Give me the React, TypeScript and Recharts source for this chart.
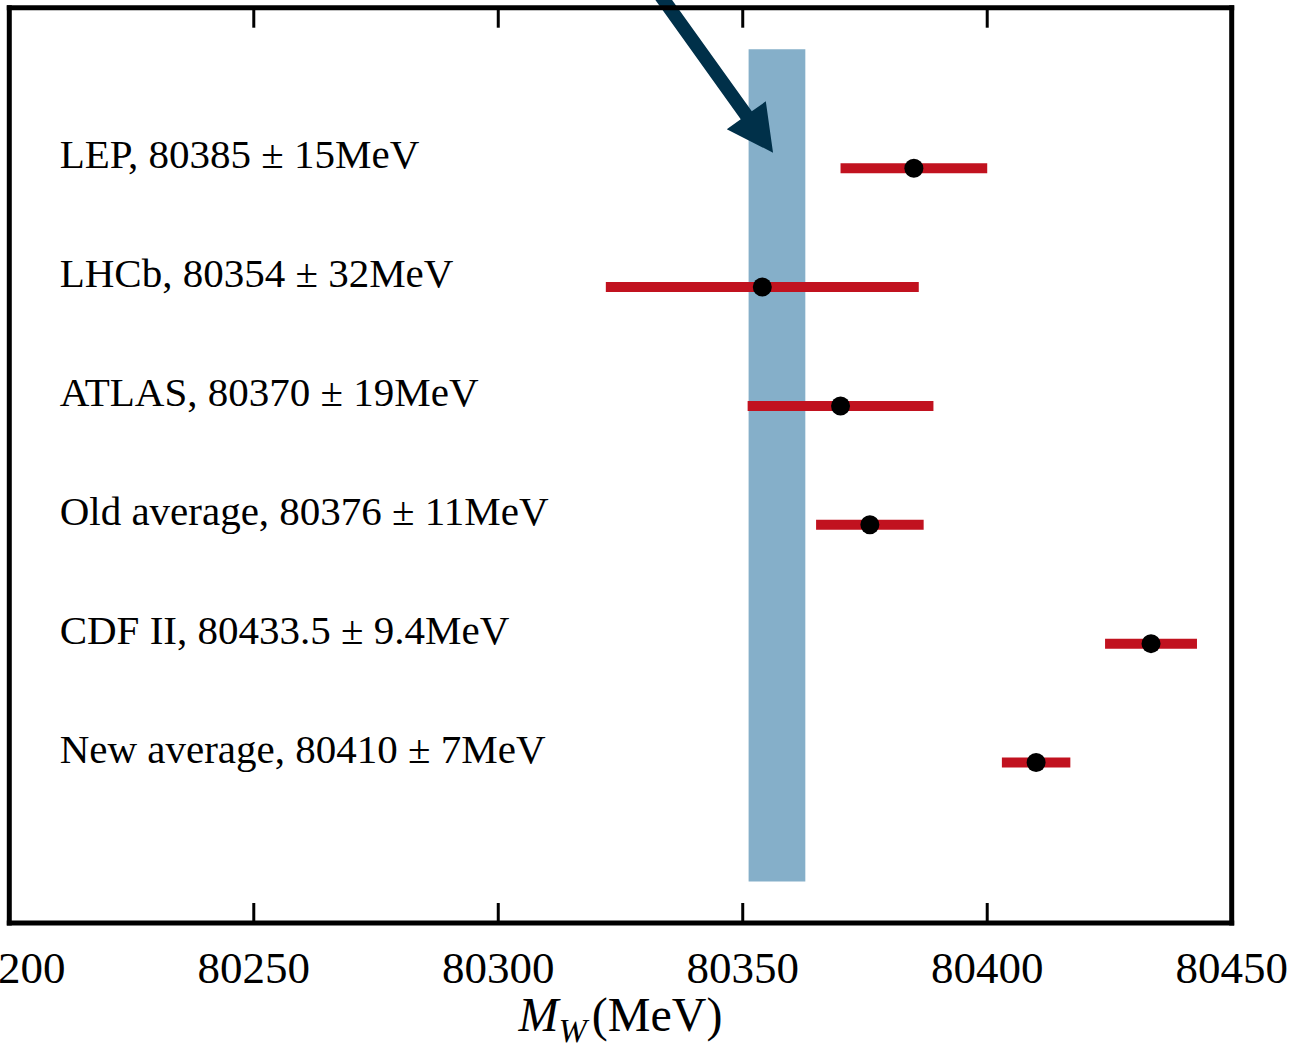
import { ScatterChart, Scatter, XAxis, YAxis, ErrorBar, ReferenceArea, ReferenceLine, Label } from 'recharts';

const SERIF = '"Liberation Serif", "DejaVu Serif", serif';

const experiments = ['LEP', 'LHCb', 'ATLAS', 'Old average', 'CDF II', 'New average'];
const massValues = [80385, 80354, 80370, 80376, 80433.5, 80410];
const massErrors = [15, 32, 19, 11, 9.4, 7];
const rowPositions = [6, 5, 4, 3, 2, 1];
const xTicks = [80200, 80250, 80300, 80350, 80400, 80450];
const xDomain = [80200, 80450];
const yDomain = [-0.35, 7.35];
// standard model prediction band: centre, half width, rows covered
const smCentre = 80357;
const smHalfWidth = 5.8;
const smRows = [0, 7];
// annotation arrow pointing at the band (data coords)
const arrowTail = [80329.4, 7.67];
const arrowTip = [80356.2, 6.13];
const labelX = 80210.3;

const points = experiments.map((_, i) => ({ x: massValues[i], y: rowPositions[i], err: massErrors[i] }));
const labels = experiments.map((name, i) => ({
    x: labelX,
    y: rowPositions[i],
    text: `${name}, ${massValues[i]} ± ${massErrors[i]}MeV`,
}));

function Dot(props: any) {
    return <circle cx={props.cx} cy={props.cy} r={9.5} fill="#000" />;
}

function RowLabel(props: any) {
    return (
        <text x={props.cx} y={props.cy} fontFamily={SERIF} fontSize={41} fill="#000">
            {props.payload.text}
        </text>
    );
}

function NoTickLabel() {
    return <g />;
}

function Arrow(props: any) {
    const { x1, y1, x2, y2 } = props;
    const len = Math.hypot(x2 - x1, y2 - y1);
    const ux = (x2 - x1) / len;
    const uy = (y2 - y1) / len;
    const nx = -uy;
    const ny = ux;
    const shaft = 6.8;
    const headLen = 46;
    const headHalf = 24;
    const bx = x2 - ux * headLen;
    const by = y2 - uy * headLen;
    const pts = [
        [x1 + nx * shaft, y1 + ny * shaft],
        [bx + nx * shaft, by + ny * shaft],
        [bx + nx * headHalf, by + ny * headHalf],
        [x2, y2],
        [bx - nx * headHalf, by - ny * headHalf],
        [bx - nx * shaft, by - ny * shaft],
        [x1 - nx * shaft, y1 - ny * shaft],
    ];
    return <polygon points={pts.map((p) => p.join(',')).join(' ')} fill="#003049" />;
}

function AxisTitle(props: any) {
    const { x, y, width } = props.viewBox;
    return (
        <text x={x + width / 2} y={y + 108} textAnchor="middle" fontFamily={SERIF} fontSize={48} fill="#000">
            <tspan fontStyle="italic">M</tspan>
            <tspan fontStyle="italic" fontSize={34} dy={11}>W</tspan>
            <tspan dy={-11} dx={5}>(MeV)</tspan>
        </text>
    );
}

const frameLine = { stroke: '#000', strokeWidth: 5, strokeLinecap: 'square' as const };
const tickLine = { stroke: '#000', strokeWidth: 3 };

export default function App() {
    return (
        <div style={{ width: 1291, height: 1046, background: '#fff' }}>
            <style>{'body{margin:0}'}</style>
            <ScatterChart width={1291} height={1046} margin={{ top: 6.7, right: 58.3, bottom: 0, left: 8.3 }}>
                <XAxis
                    dataKey="x"
                    type="number"
                    domain={xDomain}
                    ticks={xTicks}
                    interval={0}
                    allowDataOverflow
                    height={123}
                    axisLine={frameLine}
                    tickLine={tickLine}
                    tickSize={-20}
                    tickMargin={48}
                    tick={{ fontSize: 45, fill: '#000', fontFamily: SERIF }}
                >
                    <Label content={AxisTitle} />
                </XAxis>
                <XAxis
                    xAxisId="top"
                    dataKey="x"
                    orientation="top"
                    type="number"
                    domain={xDomain}
                    ticks={xTicks}
                    interval={0}
                    allowDataOverflow
                    height={1}
                    axisLine={frameLine}
                    tickLine={tickLine}
                    tickSize={-20}
                    tick={NoTickLabel}
                />
                <YAxis
                    dataKey="y"
                    type="number"
                    domain={yDomain}
                    allowDataOverflow
                    width={1}
                    axisLine={frameLine}
                    tickLine={false}
                    tick={false}
                />
                <YAxis
                    yAxisId="right"
                    dataKey="y"
                    orientation="right"
                    type="number"
                    domain={yDomain}
                    allowDataOverflow
                    width={1}
                    axisLine={frameLine}
                    tickLine={false}
                    tick={false}
                />
                <ReferenceArea
                    x1={smCentre - smHalfWidth}
                    x2={smCentre + smHalfWidth}
                    y1={smRows[0]}
                    y2={smRows[1]}
                    fill="#669bbc"
                    fillOpacity={0.8}
                    stroke="none"
                />
                <Scatter
                    data={labels}
                    dataKey="y"
                    xAxisId="top"
                    yAxisId="right"
                    isAnimationActive={false}
                    shape={RowLabel}
                />
                <Scatter data={points} dataKey="y" isAnimationActive={false} shape={Dot}>
                    <ErrorBar dataKey="err" direction="x" width={0} strokeWidth={10} stroke="#c1121f" isAnimationActive={false} />
                </Scatter>
                <ReferenceLine
                    segment={[
                        { x: arrowTail[0], y: arrowTail[1] },
                        { x: arrowTip[0], y: arrowTip[1] },
                    ]}
                    ifOverflow="visible"
                    shape={Arrow}
                />
            </ScatterChart>
        </div>
    );
}
